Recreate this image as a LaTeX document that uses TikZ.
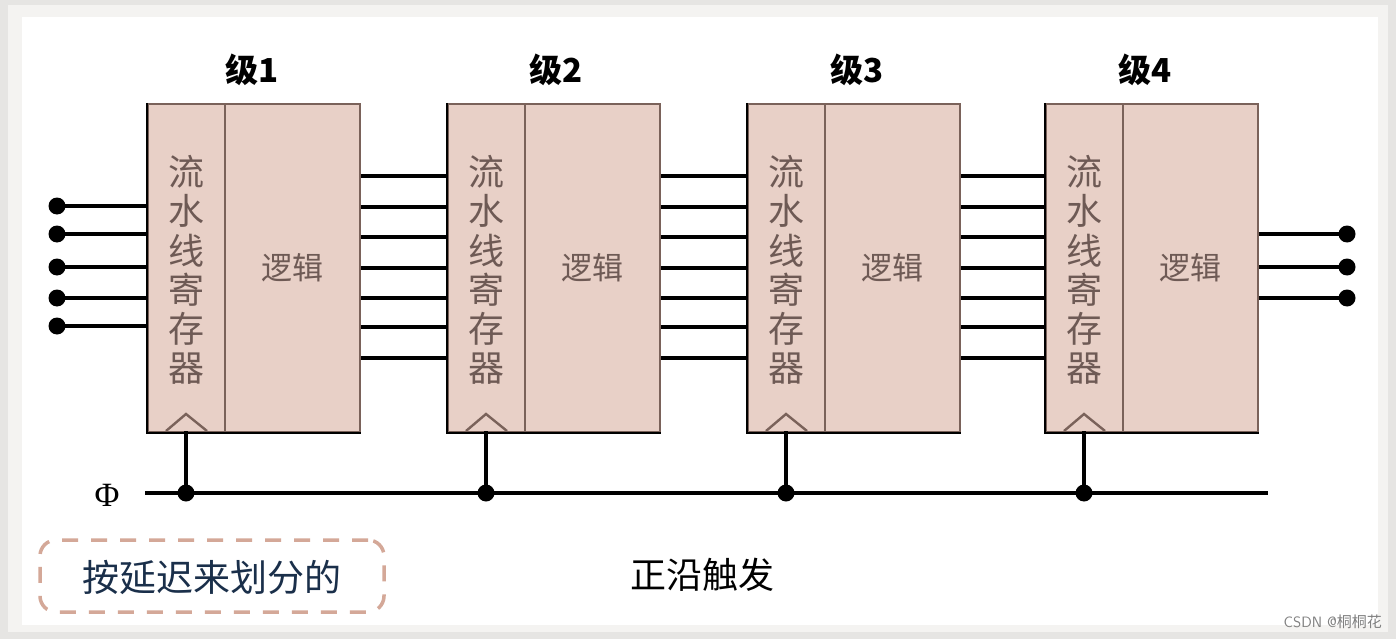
\documentclass[tikz,border=0pt]{standalone}
\usepackage{fontspec}
\newfontfamily\cjk{Noto Sans CJK SC}
\newfontfamily\serifgreek{Liberation Serif}
\definecolor{boxfill}{HTML}{E8D0C7}
\definecolor{boxline}{HTML}{7A625A}
\definecolor{regtext}{HTML}{6E5A55}
\definecolor{dashcol}{HTML}{D4A898}
\definecolor{navy}{HTML}{1A2F4A}
\definecolor{bgout}{HTML}{E6E5E3}
\definecolor{bgband}{HTML}{F4F3F1}
\tikzset{
  regbox/.style={draw=boxline, fill=boxfill, line width=1.8pt, minimum width=77pt, minimum height=328pt, inner sep=0pt, anchor=north west},
  logicbox/.style={draw=boxline, fill=boxfill, line width=1.8pt, minimum width=135pt, minimum height=328pt, inner sep=0pt, anchor=north west},
  regtxt/.style={text=regtext, font=\cjk\fontsize{36}{39.2}\selectfont, align=center, inner sep=0pt},
  logtxt/.style={text=regtext, font=\cjk\fontsize{31}{36}\selectfont, inner sep=0pt},
  title/.style={font=\cjk\bfseries\fontsize{33}{38}\selectfont, inner sep=0pt},
  wire/.style={line width=3.2pt, black},
  edgeblack/.style={line width=2.6pt, black},
  clk/.style={draw=boxline, line width=2.4pt},
  dot/.style={circle, fill=black, inner sep=0pt, minimum size=17pt},
}
\begin{document}
\begin{tikzpicture}[x=1pt,y=-1pt]
\useasboundingbox (0,0) rectangle (1396,639);
\fill[bgout] (0,0) rectangle (1396,639);
\fill[bgband] (8,5) rectangle (1388,632);
\fill[white] (22,17) rectangle (1378,625);

% stages
\foreach \i/\x/\tx in {1/147/252, 2/447/556, 3/747/857, 4/1045/1145} {
  \node[regbox] (R\i) at (\x,103) {};
  \node[logicbox] (L\i) at (\x+77,103) {};
  \node[regtxt] (RT\i) at (\x+39,270) {流\\水\\线\\寄\\存\\器};
  \node[logtxt] (LT\i) at (\x+145,268) {逻辑};
  \node[title] (T\i) at (\tx,70) {级\i};
  \draw[edgeblack] (R\i.north west) -- (R\i.south west) -- (L\i.south east);
  \coordinate (CK\i) at (\x+39,431);
  \draw[clk] ([xshift=-20pt]CK\i) -- ([yshift=17pt]CK\i) -- ([xshift=21pt]CK\i);
}

% input wires
\foreach \y [count=\k] in {206,234,267,298,326} {
  \node[dot] (IN\k) at (57,\y) {};
  \draw[wire] (IN\k.center) -- (R1.west |- IN\k.center);
}
% inter-stage wires
\foreach \a/\b in {1/2,2/3,3/4} {
  \foreach \y in {176,207,237,268,298,327,358} {
    \draw[wire] (L\a.east |- 0,\y) -- (R\b.west |- 0,\y);
  }
}
% output wires
\foreach \y [count=\k] in {234,267,298} {
  \node[dot] (OUT\k) at (1347,\y) {};
  \draw[wire] (L4.east |- OUT\k.center) -- (OUT\k.center);
}

% clock bus
\node[font=\serifgreek\fontsize{34}{36}\selectfont, inner sep=0pt] (PHI) at (107,495) {Φ};
\coordinate (BUSL) at (145,493);
\coordinate (BUSR) at (1268,493);
\draw[wire] (BUSL) -- (BUSR);
\foreach \i in {1,2,3,4} {
  \node[dot] (J\i) at (CK\i |- BUSL) {};
  \draw[wire] (CK\i) -- (J\i.center);
}

% notes
\node[draw=dashcol, line width=3.5pt, dash pattern=on 16pt off 13pt, rounded corners=16pt,
      minimum width=344pt, minimum height=72pt, inner sep=0pt] (NOTE) at (212,576) {};
\node[text=navy, font=\cjk\fontsize{37}{40}\selectfont, inner sep=0pt] (NOTET) at (212,577) {按延迟来划分的};
\node[font=\cjk\fontsize{36}{40}\selectfont, inner sep=0pt] (EDGE) at (702,575) {正沿触发};
\node[text=black!50, font=\fontsize{15}{17}\selectfont\sffamily, inner sep=0pt, anchor=east] (WM) at (1382,622) {CSDN @{\cjk 桐桐花}};
\end{tikzpicture}
\end{document}
